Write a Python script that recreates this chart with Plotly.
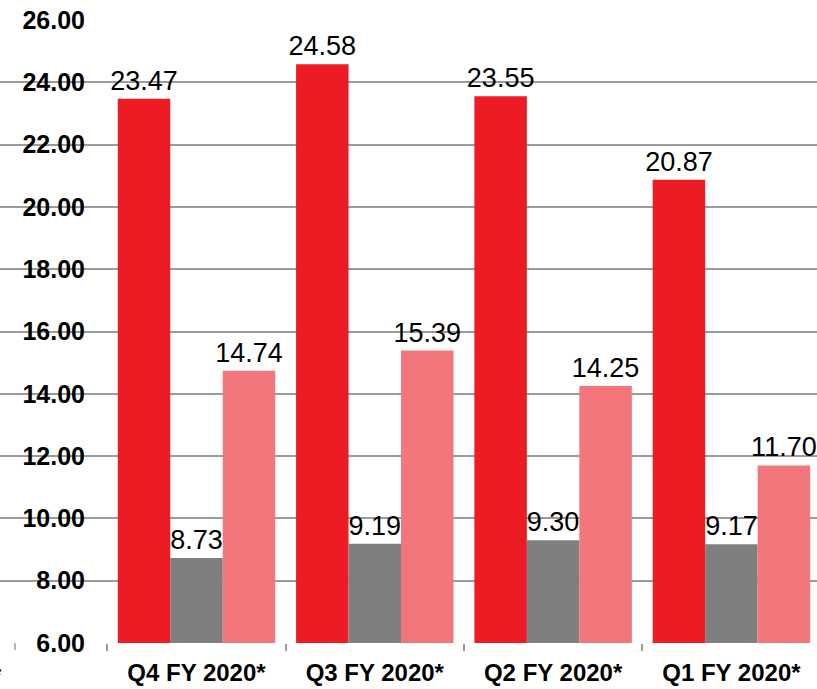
import plotly.graph_objects as go

categories = ["Q4 FY 2020*", "Q3 FY 2020*", "Q2 FY 2020*", "Q1 FY 2020*"]
series_red = [23.47, 24.58, 23.55, 20.87]
series_gray = [8.73, 9.19, 9.30, 9.17]
series_pink = [14.74, 15.39, 14.25, 11.70]
y_ticks = [6, 8, 10, 12, 14, 16, 18, 20, 22, 24, 26]

W, H = 817, 689
colors = ["#ED1C24", "#7F7F7F", "#F3767A"]
names = ["Series 1", "Series 2", "Series 3"]

fig = go.Figure()
for vals, col, nm in zip([series_red, series_gray, series_pink], colors, names):
    fig.add_trace(go.Bar(
        x=categories, y=vals, name=nm,
        marker=dict(color=col, line=dict(width=0)),
        texttemplate="%{y:.2f}", textposition="outside",
        textfont=dict(family="Liberation Sans, Arial, sans-serif", size=27, color="#000000"),
        constraintext="none", cliponaxis=False,
    ))

grid_col = "#9B9B9B"
fig.update_layout(
    width=W, height=H,
    margin=dict(l=0, r=0, t=20, b=46, autoexpand=False),
    paper_bgcolor="white", plot_bgcolor="white",
    barmode="group", bargap=0.117, bargroupgap=0,
    showlegend=False,
    font=dict(family="Liberation Sans, Arial, sans-serif", color="#000000"),
    xaxis=dict(
        type="category", categoryorder="array", categoryarray=categories,
        range=[-1.102, 3.480], automargin=False,
        showgrid=False, showline=False, zeroline=False,
        ticks="outside", tickson="boundaries", ticklen=7, tickwidth=1.5, tickcolor=grid_col,
        tickfont=dict(size=24, color="#000000", family="Liberation Sans, Arial, sans-serif", weight="bold"),
        ticklabelstandoff=13,
    ),
    yaxis=dict(
        range=[6, 26], tickvals=y_ticks, ticktext=[f"{v:.2f}" for v in y_ticks],
        anchor="free", position=85 / W, automargin=False,
        showgrid=True, gridcolor=grid_col, gridwidth=1.5,
        showline=False, zeroline=False, ticks="",
        tickfont=dict(size=25, color="#000000", family="Liberation Sans, Arial, sans-serif", weight="bold"),
    ),
    shapes=[
        dict(type="rect", xref="paper", yref="paper", x0=15 / W, x1=107 / W, y0=-0.02, y1=1.02,
             fillcolor="white", line=dict(width=0), layer="between"),
        dict(type="line", xref="paper", yref="paper", x0=15 / W, x1=15 / W, y0=0, y1=-7 / 623,
             line=dict(color=grid_col, width=1.5)),
    ],
    annotations=[
        dict(text="<b>*</b>", xref="paper", yref="paper", x=0, y=0, xanchor="right", yanchor="top",
             xshift=4, yshift=-17, showarrow=False, font=dict(size=24, color="#000000")),
    ],
)

fig.write_html(
    "out.html",
    config={"displayModeBar": False},
    post_script="document.body.style.margin='0';document.body.style.overflow='hidden';",
)
